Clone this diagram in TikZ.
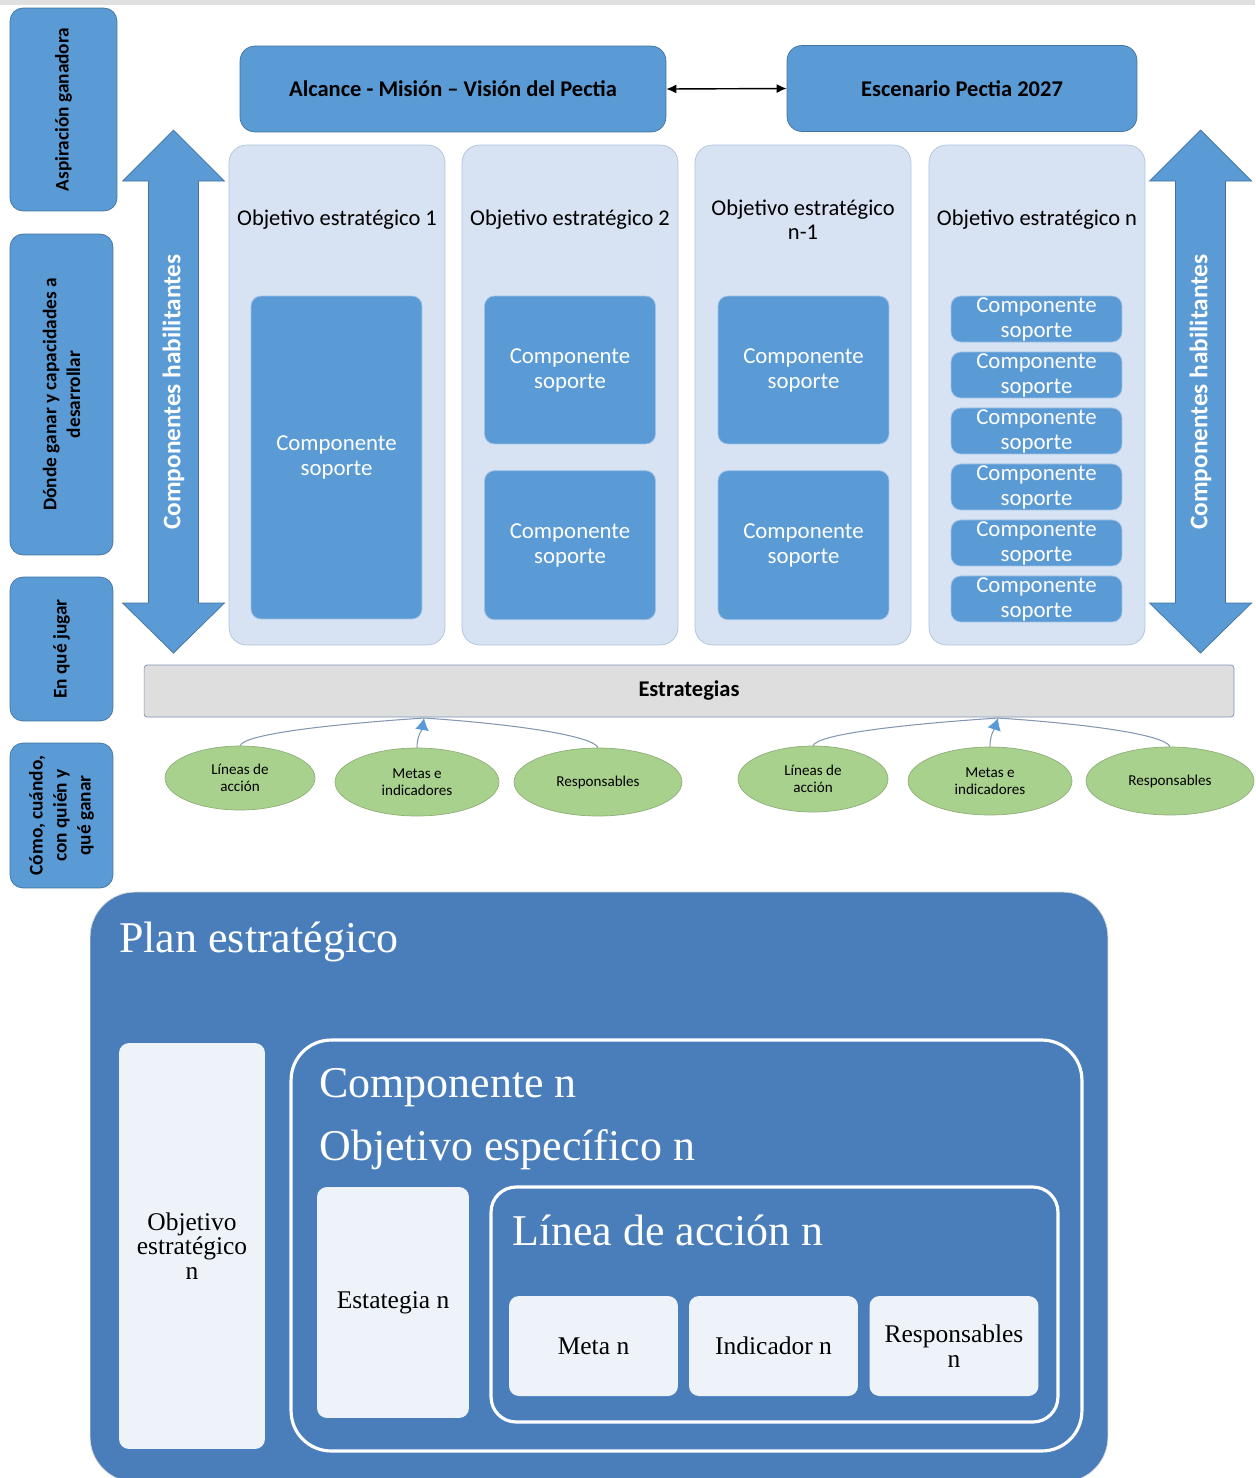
\documentclass[tikz,border=0pt]{standalone}
\usepackage{fontspec}
\setmainfont{Carlito}
\newfontfamily\planFont{Liberation Serif}
\usetikzlibrary{shapes.geometric,positioning,arrows.meta}
\definecolor{boxBlue}{HTML}{5B9BD5}
\definecolor{boxEdge}{HTML}{41719C}
\definecolor{colFill}{HTML}{D7E3F2}
\definecolor{colEdge}{HTML}{AFC2DA}
\definecolor{compEdge}{HTML}{9CC0E6}
\definecolor{barFill}{HTML}{DEDEDE}
\definecolor{barEdge}{HTML}{7A93B5}
\definecolor{ovalFill}{HTML}{A9D18E}
\definecolor{ovalEdge}{HTML}{8FAE78}
\definecolor{linkGray}{HTML}{8497B0}
\definecolor{planBlue}{HTML}{4A7EBB}
\definecolor{paleFill}{HTML}{EEF3FA}
\begin{document}
\begin{tikzpicture}[x=0.02cm,y=-0.02cm,
  sideBox/.style={draw=boxEdge,fill=boxBlue,rounded corners=0.26cm,rotate=90,align=center,
    font=\fontsize{11}{13.6}\selectfont\bfseries,minimum height=2.06cm,inner sep=0pt},
  topBox/.style={draw=boxEdge,fill=boxBlue,rounded corners=0.3cm,
    font=\fontsize{12.8}{15}\selectfont\bfseries,minimum height=1.72cm},
  colBox/.style={draw=colEdge,fill=colFill,rounded corners=0.35cm,minimum width=4.32cm,minimum height=10cm},
  colTitle/.style={align=center,inner sep=0pt,font=\fontsize{12.8}{13.5}\selectfont},
  compBox/.style={draw=compEdge,fill=boxBlue,rounded corners=0.2cm,minimum width=3.42cm,align=center,
    text=white,font=\fontsize{13}{14.2}\selectfont,inner sep=0pt},
  greenOval/.style={ellipse,draw=ovalEdge,fill=ovalFill,align=center,inner sep=0pt,
    font=\fontsize{8.6}{10}\selectfont},
  linkLine/.style={draw=linkGray,semithick},
  habText/.style={rotate=90,text=white,font=\fontsize{14.4}{16}\selectfont\bfseries},
  paleBox/.style={fill=paleFill,rounded corners=0.2cm,align=center,inner sep=0pt,
    font=\planFont\fontsize{14.5}{14}\selectfont},
  frameBox/.style={draw=white,line width=1.8pt,rounded corners=0.8cm},
  planTitle/.style={anchor=west,inner sep=0pt,text=white,font=\planFont\fontsize{25}{30}\selectfont}
]
    \newcommand{\blockArrow}[2]{
        \filldraw[fill=boxBlue,draw=boxEdge] (#1,130) -- (#1+51,181) -- (#1+25,181) -- (#1+25,603)
          -- (#1+51,603) -- (#1,653) -- (#1-51,603) -- (#1-25,603) -- (#1-25,181) -- (#1-51,181) -- cycle;
        \node[habText] (#2) at (#1,392) {Componentes habilitantes};
    }
\useasboundingbox (0,0) rectangle (1255,1478);
\fill[black!12] (0,0) rectangle (1255,5);

\node[sideBox,minimum width=4.06cm,minimum height=2.14cm] (asp) at (63.5,109.5) {Aspiración ganadora};
\node[sideBox,minimum width=6.42cm] (donde) at (61.5,394.5) {Dónde ganar y capacidades a\\desarrollar};
\node[sideBox,minimum width=2.88cm] (jugar) at (61.5,649) {En qué jugar};
\node[sideBox,minimum width=2.9cm] (como) at (61.5,815.5) {Cómo, cuándo,\\con quién y\\qué ganar};

\node[topBox,minimum width=8.52cm] (alcance) at (453,89) {Alcance - Misión -- Visión del Pectia};
\node[topBox,minimum width=7cm] (escenario) at (962,88.5) {Escenario Pectia 2027};
\draw[thick,{Latex[length=2mm,width=1.8mm]}-{Latex[length=2mm,width=1.8mm]}] (alcance.east) -- (escenario.west);

\blockArrow{173.5}{habLeft}
\blockArrow{1200.5}{habRight}

\node[colBox] (col1) at (337,395) {};
\node[colBox] (col2) at (570,395) {};
\node[colBox] (col3) at (803,395) {};
\node[colBox] (col4) at (1037,395) {};
\node[colTitle] (tit1) at (337,220) {Objetivo estratégico 1};
\node[colTitle] (tit2) at (570,220) {Objetivo estratégico 2};
\node[colTitle] (tit3) at (803,220) {Objetivo estratégico\\n-1};
\node[colTitle] (tit4) at (1037,220) {Objetivo estratégico n};

\node[compBox,minimum height=6.46cm] (comp1) at (336.5,457.5) {Componente\\soporte};
\node[compBox,minimum height=2.96cm] (comp2a) at (570,370) {Componente\\soporte};
\node[compBox,minimum height=2.98cm,below=0.52cm of comp2a] (comp2b) {Componente\\soporte};
\node[compBox,minimum height=2.96cm] (comp3a) at (803.5,370) {Componente\\soporte};
\node[compBox,minimum height=2.98cm,below=0.52cm of comp3a] (comp3b) {Componente\\soporte};
\node[compBox,minimum height=0.92cm] (comp41) at (1036.5,319) {Componente\\soporte};
\node[compBox,minimum height=0.92cm,below=0.186cm of comp41] (comp42) {Componente\\soporte};
\node[compBox,minimum height=0.92cm,below=0.186cm of comp42] (comp43) {Componente\\soporte};
\node[compBox,minimum height=0.92cm,below=0.186cm of comp43] (comp44) {Componente\\soporte};
\node[compBox,minimum height=0.92cm,below=0.186cm of comp44] (comp45) {Componente\\soporte};
\node[compBox,minimum height=0.92cm,below=0.186cm of comp45] (comp46) {Componente\\soporte};

\node[draw=barEdge,fill=barFill,rounded corners=0.06cm,minimum width=21.8cm,minimum height=1.04cm,
  font=\fontsize{12.8}{15}\selectfont\bfseries] (strat) at (689,691) {Estrategias};

\node[greenOval,minimum width=3cm,minimum height=1.28cm] (lin1) at (240,778) {Líneas de\\acción};
\node[greenOval,minimum width=3.28cm,minimum height=1.36cm] (met1) at (417,782) {Metas e\\indicadores};
\node[greenOval,minimum width=3.36cm,minimum height=1.36cm] (res1) at (598,782) {Responsables};
\node[greenOval,minimum width=3cm,minimum height=1.32cm] (lin2) at (813,779) {Líneas de\\acción};
\node[greenOval,minimum width=3.28cm,minimum height=1.36cm] (met2) at (990,781) {Metas e\\indicadores};
\node[greenOval,minimum width=3.36cm,minimum height=1.36cm] (res2) at (1170,781) {Responsables};

\coordinate (hubA) at (424,718);
\coordinate (hubB) at (998,718);
\draw[linkLine] (lin1.north) .. controls +(5,-12) and +(-90,6) .. (hubA);
\draw[linkLine] (res1.north) .. controls +(-5,-12) and +(90,6) .. (hubA);
\draw[linkLine,-{Latex[length=2.4mm,width=2.8mm,color=boxBlue]}] (met1.north) .. controls +(0,-12) and +(-2,12) .. (hubA);
\draw[linkLine] (lin2.north) .. controls +(5,-12) and +(-90,6) .. (hubB);
\draw[linkLine] (res2.north) .. controls +(-5,-12) and +(90,6) .. (hubB);
\draw[linkLine,-{Latex[length=2.4mm,width=2.8mm,color=boxBlue]}] (met2.north) .. controls +(0,-12) and +(-4,12) .. (hubB);

\node[draw=black!15,fill=planBlue,rounded corners=0.9cm,minimum width=20.36cm,minimum height=11.8cm] (plan) at (599,1187) {};
\node[planTitle] (planT) at (119,942) {Plan estratégico};
\node[paleBox,minimum width=2.92cm,minimum height=8.12cm] (objN) at (192,1246) {Objetivo\\estratégico\\n};
\node[frameBox,minimum width=15.82cm,minimum height=8.22cm] (compN) at (686.5,1245.5) {};
\node[planTitle] (compT) at (319,1088) {Componente n};
\node[planTitle] (objEsp) at (319,1150) {Objetivo específico n};
\node[paleBox,minimum width=3.04cm,minimum height=4.62cm] (estN) at (393,1302.5) {Estategia n};
\node[frameBox,rounded corners=0.5cm,minimum width=11.34cm,minimum height=4.7cm] (lineaN) at (774.5,1304.5) {};
\node[planTitle] (lineaT) at (512,1230) {Línea de acción n};
\node[paleBox,minimum width=3.38cm,minimum height=2cm] (metaN) at (593.5,1346) {Meta n};
\node[paleBox,minimum width=3.38cm,minimum height=2cm] (indN) at (773.5,1346) {Indicador n};
\node[paleBox,minimum width=3.38cm,minimum height=2cm] (respN) at (954,1346) {Responsables\\n};
\end{tikzpicture}
\end{document}
